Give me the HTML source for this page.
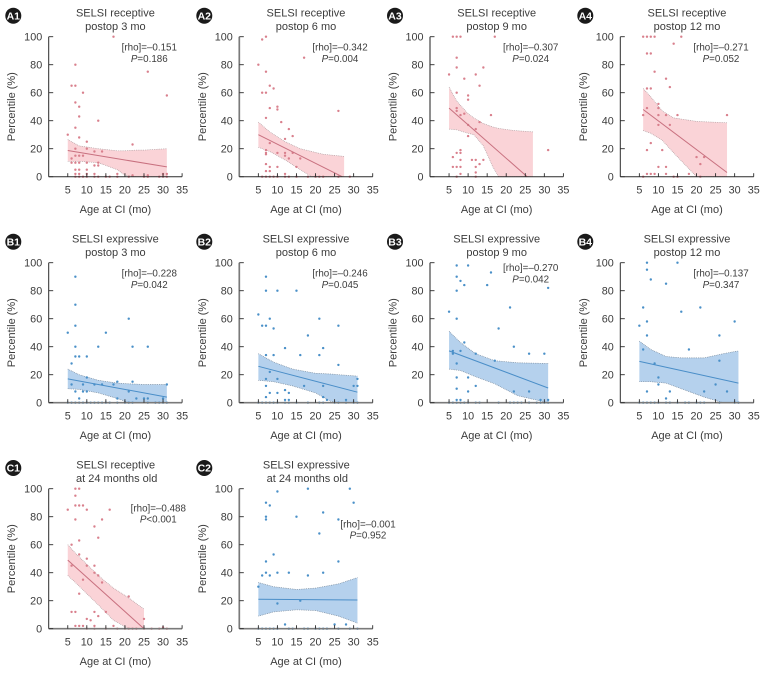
<!DOCTYPE html>
<html lang="en">
<head>
<meta charset="utf-8">
<title>SELSI percentile versus age at CI</title>
<style>
html,body{margin:0;padding:0;background:#fff;}
svg{display:block;font-family:"Liberation Sans",sans-serif;}
text{fill:#3c3c3c;}
.title{font-size:11px;text-anchor:middle;}
.axis-title{font-size:11px;text-anchor:middle;}
.annot{font-size:9.8px;text-anchor:middle;}
.tick-label{font-size:10.8px;}
.badge-text{font-size:10.5px;font-weight:bold;fill:#fff;text-anchor:middle;}
.axis{stroke:#2b2b2b;stroke-width:1;fill:none;}
.axis.gray{stroke:#7a7a7a;stroke-width:1.7;}
</style>
</head>
<body>
<svg id="figure" width="769" height="673" viewBox="0 0 769 673" xmlns="http://www.w3.org/2000/svg">

<g><circle cx="13.3" cy="15.7" r="8" fill="#1a1a1a"/><text class="badge-text" x="13.3" y="19.4">A1</text></g>
<g id="a1" transform="translate(48.7,36.7)">
<text class="title" x="66.7" y="-20.4">SELSI receptive</text>
<text class="title" x="66.7" y="-6.7">postop 3 mo</text>
<g class="plot"></g>
<line class="axis" x1="0" y1="0" x2="0" y2="140"/>
<line class="axis" x1="0" y1="140" x2="133.4" y2="140"/>
<text class="annot" x="100.6" y="14">[rho]=–0.151</text>
<text class="annot" x="100.6" y="25.3"><tspan font-style="italic">P</tspan>=0.186</text>
<text class="axis-title" x="66.7" y="176.3">Age at CI (mo)</text>
<text class="axis-title" transform="translate(-33.5,70) rotate(-90)">Percentile (%)</text>
</g>

<g><circle cx="204.3" cy="15.7" r="8" fill="#1a1a1a"/><text class="badge-text" x="204.3" y="19.4">A2</text></g>
<g id="a2" transform="translate(239.3,36.7)">
<text class="title" x="66.7" y="-20.4">SELSI receptive</text>
<text class="title" x="66.7" y="-6.7">postop 6 mo</text>
<g class="plot"></g>
<line class="axis gray" x1="0" y1="0" x2="0" y2="140"/>
<line class="axis" x1="0" y1="140" x2="133.4" y2="140"/>
<text class="annot" x="100.7" y="14">[rho]=–0.342</text>
<text class="annot" x="100.7" y="25.3"><tspan font-style="italic">P</tspan>=0.004</text>
<text class="axis-title" x="66.7" y="176.3">Age at CI (mo)</text>
<text class="axis-title" transform="translate(-33.5,70) rotate(-90)">Percentile (%)</text>
</g>

<g><circle cx="395" cy="15.7" r="8" fill="#1a1a1a"/><text class="badge-text" x="395" y="19.4">A3</text></g>
<g id="a3" transform="translate(430,36.7)">
<text class="title" x="66.7" y="-20.4">SELSI receptive</text>
<text class="title" x="66.7" y="-6.7">postop 9 mo</text>
<g class="plot"></g>
<line class="axis gray" x1="0" y1="0" x2="0" y2="140"/>
<line class="axis" x1="0" y1="140" x2="133.4" y2="140"/>
<text class="annot" x="100.7" y="14">[rho]=–0.307</text>
<text class="annot" x="100.7" y="25.3"><tspan font-style="italic">P</tspan>=0.024</text>
<text class="axis-title" x="66.7" y="176.3">Age at CI (mo)</text>
<text class="axis-title" transform="translate(-33.5,70) rotate(-90)">Percentile (%)</text>
</g>

<g><circle cx="585.3" cy="15.7" r="8" fill="#1a1a1a"/><text class="badge-text" x="585.3" y="19.4">A4</text></g>
<g id="a4" transform="translate(620.3,36.7)">
<text class="title" x="66.7" y="-20.4">SELSI receptive</text>
<text class="title" x="66.7" y="-6.7">postop 12 mo</text>
<g class="plot"></g>
<line class="axis" x1="0" y1="0" x2="0" y2="140"/>
<line class="axis" x1="0" y1="140" x2="133.4" y2="140"/>
<text class="annot" x="100.7" y="14">[rho]=–0.271</text>
<text class="annot" x="100.7" y="25.3"><tspan font-style="italic">P</tspan>=0.052</text>
<text class="axis-title" x="66.7" y="176.3">Age at CI (mo)</text>
<text class="axis-title" transform="translate(-33.5,70) rotate(-90)">Percentile (%)</text>
</g>

<g><circle cx="13.3" cy="241.7" r="8" fill="#1a1a1a"/><text class="badge-text" x="13.3" y="245.4">B1</text></g>
<g id="b1" transform="translate(48.7,262.7)">
<text class="title" x="66.7" y="-20">SELSI expressive</text>
<text class="title" x="66.7" y="-6.7">postop 3 mo</text>
<g class="plot"></g>
<line class="axis" x1="0" y1="0" x2="0" y2="140"/>
<line class="axis gray" x1="0" y1="140" x2="133.4" y2="140"/>
<text class="annot" x="100.6" y="14">[rho]=–0.228</text>
<text class="annot" x="100.6" y="25.3"><tspan font-style="italic">P</tspan>=0.042</text>
<text class="axis-title" x="66.7" y="176.3">Age at CI (mo)</text>
<text class="axis-title" transform="translate(-33.5,70) rotate(-90)">Percentile (%)</text>
</g>

<g><circle cx="204.3" cy="241.7" r="8" fill="#1a1a1a"/><text class="badge-text" x="204.3" y="245.4">B2</text></g>
<g id="b2" transform="translate(239.3,262.7)">
<text class="title" x="66.7" y="-20">SELSI expressive</text>
<text class="title" x="66.7" y="-6.7">postop 6 mo</text>
<g class="plot"></g>
<line class="axis gray" x1="0" y1="0" x2="0" y2="140"/>
<line class="axis gray" x1="0" y1="140" x2="133.4" y2="140"/>
<text class="annot" x="100.7" y="14">[rho]=–0.246</text>
<text class="annot" x="100.7" y="25.3"><tspan font-style="italic">P</tspan>=0.045</text>
<text class="axis-title" x="66.7" y="176.3">Age at CI (mo)</text>
<text class="axis-title" transform="translate(-33.5,70) rotate(-90)">Percentile (%)</text>
</g>

<g><circle cx="395" cy="241.7" r="8" fill="#1a1a1a"/><text class="badge-text" x="395" y="245.4">B3</text></g>
<g id="b3" transform="translate(430,262.7)">
<text class="title" x="66.7" y="-20">SELSI expressive</text>
<text class="title" x="66.7" y="-6.7">postop 9 mo</text>
<g class="plot"></g>
<line class="axis gray" x1="0" y1="0" x2="0" y2="140"/>
<line class="axis gray" x1="0" y1="140" x2="133.4" y2="140"/>
<text class="annot" x="100.7" y="8.2">[rho]=–0.270</text>
<text class="annot" x="100.7" y="20"><tspan font-style="italic">P</tspan>=0.042</text>
<text class="axis-title" x="66.7" y="176.3">Age at CI (mo)</text>
<text class="axis-title" transform="translate(-33.5,70) rotate(-90)">Percentile (%)</text>
</g>

<g><circle cx="585.3" cy="241.7" r="8" fill="#1a1a1a"/><text class="badge-text" x="585.3" y="245.4">B4</text></g>
<g id="b4" transform="translate(620.3,262.7)">
<text class="title" x="66.7" y="-20">SELSI expressive</text>
<text class="title" x="66.7" y="-6.7">postop 12 mo</text>
<g class="plot"></g>
<line class="axis" x1="0" y1="0" x2="0" y2="140"/>
<line class="axis gray" x1="0" y1="140" x2="133.4" y2="140"/>
<text class="annot" x="100.7" y="14">[rho]=–0.137</text>
<text class="annot" x="100.7" y="25.3"><tspan font-style="italic">P</tspan>=0.347</text>
<text class="axis-title" x="66.7" y="176.3">Age at CI (mo)</text>
<text class="axis-title" transform="translate(-33.5,70) rotate(-90)">Percentile (%)</text>
</g>

<g><circle cx="13.3" cy="468" r="8" fill="#1a1a1a"/><text class="badge-text" x="13.3" y="471.7">C1</text></g>
<g id="c1" transform="translate(48.7,488.7)">
<text class="title" x="67" y="-20">SELSI receptive</text>
<text class="title" x="68" y="-6.7">at 24 months old</text>
<g class="plot"></g>
<line class="axis" x1="0" y1="0" x2="0" y2="140"/>
<line class="axis gray" x1="0" y1="140" x2="133.4" y2="140"/>
<text class="annot" x="109.6" y="22.7">[rho]=–0.488</text>
<text class="annot" x="109.6" y="34"><tspan font-style="italic">P</tspan>&lt;0.001</text>
<text class="axis-title" x="66.7" y="176.3">Age at CI (mo)</text>
<text class="axis-title" transform="translate(-33.5,70) rotate(-90)">Percentile (%)</text>
</g>

<g><circle cx="204.3" cy="468" r="8" fill="#1a1a1a"/><text class="badge-text" x="204.3" y="471.7">C2</text></g>
<g id="c2" transform="translate(239.3,488.7)">
<text class="title" x="67" y="-20">SELSI expressive</text>
<text class="title" x="68" y="-6.7">at 24 months old</text>
<g class="plot"></g>
<line class="axis gray" x1="0" y1="0" x2="0" y2="140"/>
<line class="axis gray" x1="0" y1="140" x2="133.4" y2="140"/>
<text class="annot" x="128.7" y="38.6">[rho]=–0.001</text>
<text class="annot" x="128.7" y="50"><tspan font-style="italic">P</tspan>=0.952</text>
<text class="axis-title" x="66.7" y="176.3">Age at CI (mo)</text>
<text class="axis-title" transform="translate(-33.5,70) rotate(-90)">Percentile (%)</text>
</g>
</svg>

<script>
const xTicks = [5, 10, 15, 20, 25, 30, 35];
const yTicks = [0, 20, 40, 60, 80, 100];

const a1Ages = [17,7,26,6,7,9,31,7,8,8,13,7,5,8,10,22,7,10,6,12,14,7,8,9,6,7,8,10,13,12,13,7,8,10,7,8,10,12,18,22,26,30,31,7,8,9,10,12,13,15,16,18,21,25,26,29,30,31];
const a1Values = [100,80,75,65,65,60,58,53,50,43,40,35,30,28,25,23,20,20,13,18,18,15,15,15,10,10,10,10,10,8,8,5,5,5,2,2,2,2,2,1,1,2,2,0,0,0,0,0,0,0,0,0,0,0,0,0,0,0];
const a1FitAges = [5,31];
const a1FitValues = [18.7,7];
const a1BandAges = [5,8,13,18,20,23,25,31];
const a1BandUpper = [26.5,22,20,18.5,18.5,19,19,20];
const a1BandLower = [11,11,10,5,1,0,0,0];

const a2Ages = [7,6,5,17,7,8,9,6,7,8,10,10,26,7,11,13,14,12,8,7,7,7,10,12,14,12,13,16,7,8,10,15,7,8,12,6,7,8,9,10,12,13,15,18,20,21,22,26,29];
const a2Values = [100,98,80,85,75,65,63,60,60,49,50,48,47,42,39,34,29,27,24,19,17,16,17,17,17,15,13,13,9,7,7,7,4,4,2,0,0,0,0,0,0,0,0,0,0,0,0,0,0];
const a2FitAges = [5,27];
const a2FitValues = [30,0];
const a2BandAges = [5,8,12,16,19,22,27.5];
const a2BandUpper = [39,32,25,20,18,16,14.5];
const a2BandLower = [21,18,12,5,0,0,0];

const a3Ages = [6,7,8,17,7,7,14,5,12,9,13,7,10,10,7,7,8,9,16,10,13,12,10,31,8,8,7,6,8,11,12,14,13,6,7,8,12,8,12,7,12];
const a3Values = [100,100,100,100,85,78,78,73,73,70,65,60,58,55,49,47,44,45,44,37,39,34,29,19,19,17,17,14,12,12,12,12,9,7,7,7,7,2,3,0,0];
const a3FitAges = [5,25.5];
const a3FitValues = [49,0];
const a3BandAges = [5,7,10,11.5,14,16.5,18,22,27];
const a3BandUpper = [64,54,45,42,38,35.5,34.5,33,32];
const a3BandLower = [34,33.5,31,30,22,7,0,0,0];

const a4Ages = [6,7,8,9,16,14,7,8,9,12,13,7,8,10,7,10,6,10,12,15,28,10,13,8,7,11,20,22,21,10,12,7,8,9,12,18,6,14,15,21];
const a4Values = [100,100,100,100,100,95,88,88,75,70,64,63,63,52,49,49,44,44,44,44,44,37,37,24,19,19,14,14,9,7,7,2,2,2,2,2,0,0,0,0];
const a4FitAges = [6,28];
const a4FitValues = [48,3];
const a4BandAges = [6,8,11,14,20,28];
const a4BandUpper = [63,57,47,42,39.5,38.5];
const a4BandLower = [33,31,26,17,0,0];

const b1Ages = [7,7,7,5,15,21,7,13,22,26,7,8,10,6,10,18,22,6,9,12,14,17,31,7,9,10,21,8,18,23,26,25,30,5,6,7,8,9,10,11,12,13,14,15,16,18,20,21,22,26,28,29,30,31];
const b1Values = [90,70,55,50,50,60,40,40,40,40,33,33,33,28,18,15,15,13,13,13,13,13,13,8,8,8,8,3,3,3,3,3,3,0,0,0,0,0,0,0,0,0,0,0,0,0,0,0,0,0,0,0,0,0];
const b1FitAges = [5,31];
const b1FitValues = [17,4];
const b1BandAges = [5,8,13,18,21,25,31];
const b1BandUpper = [24,20,16,14,13.5,13,13];
const b1BandLower = [10,9.5,7,3,0,0,0];

const b2Ages = [7,7,10,15,5,8,21,6,7,26,9,18,7,9,16,21,12,22,26,8,7,10,31,7,17,22,30,31,12,8,10,13,7,22,12,13,23,28,5,6,7,8,9,10,12,13,15,18,21,22,25,26,28,30,31];
const b2Values = [90,80,80,80,63,60,60,55,55,55,53,48,34,34,34,34,39,39,27,22,17,17,17,12,12,12,12,12,9,7,7,7,4,4,2,2,2,2,0,0,0,0,0,0,0,0,0,0,0,0,0,0,0,0,0];
const b2FitAges = [5,31];
const b2FitValues = [26,7.5];
const b2BandAges = [5,9,14,20,24,26,31];
const b2BandUpper = [35,29,24,21,20.5,20,19];
const b2BandLower = [16,15,12,7,1,0,0];

const b3Ages = [7,10,16,7,8,9,15,31,7,21,5,7,18,9,22,6,8,6,12,26,30,17,7,7,10,12,7,10,22,26,7,8,31,29,5,6,7,8,9,10,12,13,18,21,22,23,24,26,28,29,30,31];
const b3Values = [98,98,93,90,87,84,84,82,80,68,65,60,53,43,40,37,37,35,35,35,35,30,28,18,18,12,10,8,8,8,2,2,2,2,0,0,0,0,0,0,0,0,0,0,0,0,0,0,0,0,0,0];
const b3FitAges = [5,31];
const b3FitValues = [37,10.5];
const b3BandAges = [5,8,12,17,23,31];
const b3BandUpper = [51,43,35,30,28.5,28];
const b3BandLower = [24,23,18.5,13.5,5,0];

const b4Ages = [7,15,7,8,12,6,21,16,7,30,5,7,26,6,18,26,9,10,10,25,7,13,22,28,12,5,6,7,8,9,10,12,13,15,17,18,20,21,22,26,30,31];
const b4Values = [100,100,95,88,85,68,68,65,58,58,55,48,48,38,38,30,28,18,13,13,8,8,8,8,3,0,0,0,0,0,0,0,0,0,0,0,0,0,0,0,0,0];
const b4FitAges = [5,31];
const b4FitValues = [29.5,14];
const b4BandAges = [5,8,12,16,22,27,31];
const b4BandUpper = [44,38,33,32,32,35,37];
const b4BandLower = [15,15,14,10,4,0,0];

const c1Ages = [7,8,7,5,7,8,9,10,16,7,14,12,13,8,6,8,10,6,10,12,12,13,9,14,8,21,6,7,12,15,13,10,11,25,7,8,9,12,17,10,12,15,18,20,21,22,23,25,27,29,30,31];
const c1Values = [100,100,95,85,88,88,88,85,85,78,78,73,65,63,60,53,50,45,45,45,40,38,35,33,25,23,12,12,12,12,9,7,6,7,2,2,2,2,2,0,0,0,0,0,0,0,0,0,0,0,1,0];
const c1FitAges = [5,25];
const c1FitValues = [49,0];
const c1BandAges = [5,7,10,13,17,21,25];
const c1BandUpper = [60,54,46,38,29,22,14];
const c1BandLower = [38,33,25,17,6,0,0];

const c2Ages = [10,18,29,7,30,8,22,7,15,7,26,21,9,7,26,6,7,8,10,13,18,22,5,16,10,12,25,28,5,6,7,8,9,10,13,14,17,18,20,21,22,23,26,29,31];
const c2Values = [98,100,100,90,90,88,83,80,80,78,78,68,53,48,48,38,40,38,40,40,38,40,30,20,18,3,3,3,0,0,0,0,0,0,0,0,0,0,0,0,0,0,0,0,0];
const c2FitAges = [5,31];
const c2FitValues = [21,20.5];
const c2BandAges = [5,9,15,20,26,31];
const c2BandUpper = [33,30,28,29,32,36.5];
const c2BandLower = [9,12,13.5,13,9,4];

const panels = [
  {id:'a1', kind:'red', ages:a1Ages, values:a1Values, fitAges:a1FitAges, fitValues:a1FitValues, bandAges:a1BandAges, upper:a1BandUpper, lower:a1BandLower},
  {id:'a2', kind:'red', ages:a2Ages, values:a2Values, fitAges:a2FitAges, fitValues:a2FitValues, bandAges:a2BandAges, upper:a2BandUpper, lower:a2BandLower},
  {id:'a3', kind:'red', ages:a3Ages, values:a3Values, fitAges:a3FitAges, fitValues:a3FitValues, bandAges:a3BandAges, upper:a3BandUpper, lower:a3BandLower},
  {id:'a4', kind:'red', ages:a4Ages, values:a4Values, fitAges:a4FitAges, fitValues:a4FitValues, bandAges:a4BandAges, upper:a4BandUpper, lower:a4BandLower},
  {id:'b1', kind:'blue', ages:b1Ages, values:b1Values, fitAges:b1FitAges, fitValues:b1FitValues, bandAges:b1BandAges, upper:b1BandUpper, lower:b1BandLower},
  {id:'b2', kind:'blue', ages:b2Ages, values:b2Values, fitAges:b2FitAges, fitValues:b2FitValues, bandAges:b2BandAges, upper:b2BandUpper, lower:b2BandLower},
  {id:'b3', kind:'blue', ages:b3Ages, values:b3Values, fitAges:b3FitAges, fitValues:b3FitValues, bandAges:b3BandAges, upper:b3BandUpper, lower:b3BandLower},
  {id:'b4', kind:'blue', ages:b4Ages, values:b4Values, fitAges:b4FitAges, fitValues:b4FitValues, bandAges:b4BandAges, upper:b4BandUpper, lower:b4BandLower},
  {id:'c1', kind:'red', ages:c1Ages, values:c1Values, fitAges:c1FitAges, fitValues:c1FitValues, bandAges:c1BandAges, upper:c1BandUpper, lower:c1BandLower},
  {id:'c2', kind:'blue', ages:c2Ages, values:c2Values, fitAges:c2FitAges, fitValues:c2FitValues, bandAges:c2BandAges, upper:c2BandUpper, lower:c2BandLower}
];

const palette = {
  red:  {band:'#fad3d7', edge:'#a8979a', line:'#c8707f', point:'#d9808d'},
  blue: {band:'#b5d1ed', edge:'#6f8093', line:'#4a8ec8', point:'#4a90c8'}
};
const NS = 'http://www.w3.org/2000/svg';
const xPerMonth = 133.4 / 35;
const yPerPercent = 1.4;

function xScale(age) { return age * xPerMonth; }
function yScale(value) { return 140 - value * yPerPercent; }

function make(tag, parent) {
  const el = document.createElementNS(NS, tag);
  parent.appendChild(el);
  return el;
}
function pathFrom(xs, ys) {
  return xs.map(function (x, i) {
    return (i ? 'L' : 'M') + xScale(x).toFixed(2) + ' ' + yScale(ys[i]).toFixed(2);
  }).join(' ');
}

panels.forEach(function (p) {
  const root = document.getElementById(p.id);
  const plot = root.querySelector('.plot');
  const colors = palette[p.kind];

  const band = make('path', plot);
  
  
  const revAges = p.bandAges.slice().reverse();
  const revLower = p.lower.slice().reverse();
  band.setAttribute('d', pathFrom(p.bandAges, p.upper) + ' ' + pathFrom(revAges, revLower).replace('M', 'L') + ' Z');
  band.setAttribute('fill', colors.band);

  [p.upper, p.lower].forEach(function (edgeValues) {
    const edge = make('path', plot);
    
    
    edge.setAttribute('d', pathFrom(p.bandAges, edgeValues));
    edge.setAttribute('fill', 'none');
    edge.setAttribute('stroke', colors.edge);
    edge.setAttribute('stroke-width', '0.7');
    edge.setAttribute('stroke-dasharray', '0.8 1');
  });

  p.ages.forEach(function (age, i) {
    const dot = make('circle', plot);
    
    
    dot.setAttribute('cx', xScale(age).toFixed(2));
    dot.setAttribute('cy', yScale(p.values[i]).toFixed(2));
    dot.setAttribute('r', '1.2');
    dot.setAttribute('fill', colors.point);
  });

  const fit = make('path', plot);
  
  
  fit.setAttribute('d', pathFrom(p.fitAges, p.fitValues));
  fit.setAttribute('fill', 'none');
  fit.setAttribute('stroke', colors.line);
  fit.setAttribute('stroke-width', '1');

  xTicks.forEach(function (t) {
    const tick = make('line', root);
    
    
    tick.setAttribute('x1', xScale(t).toFixed(2));
    tick.setAttribute('x2', xScale(t).toFixed(2));
    tick.setAttribute('y1', '140');
    tick.setAttribute('y2', '136.5');
    tick.setAttribute('stroke', '#2b2b2b');
    tick.setAttribute('stroke-width', '0.9');
    const label = make('text', root);
    
    
    label.setAttribute('class', 'tick-label');
    label.setAttribute('text-anchor', 'middle');
    label.setAttribute('x', xScale(t).toFixed(2));
    label.setAttribute('y', '156.6');
    label.textContent = t;
  });

  yTicks.forEach(function (t) {
    const tick = make('line', root);
    
    
    tick.setAttribute('x1', '0');
    tick.setAttribute('x2', '4.5');
    tick.setAttribute('y1', yScale(t).toFixed(2));
    tick.setAttribute('y2', yScale(t).toFixed(2));
    tick.setAttribute('stroke', '#2b2b2b');
    tick.setAttribute('stroke-width', '0.9');
    const label = make('text', root);
    
    
    label.setAttribute('class', 'tick-label');
    label.setAttribute('text-anchor', 'end');
    label.setAttribute('x', '-6.5');
    label.setAttribute('y', (yScale(t) + 3.8).toFixed(2));
    label.textContent = t;
  });
});
</script>
</body>
</html>
